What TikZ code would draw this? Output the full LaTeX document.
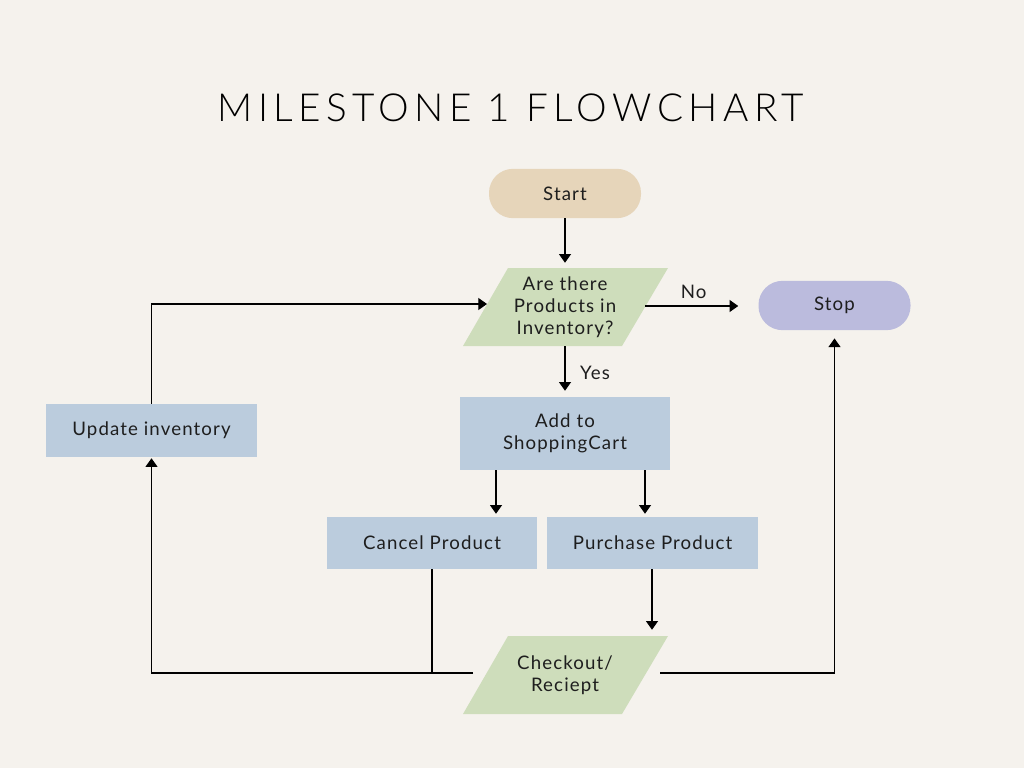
\documentclass[tikz,border=0pt]{standalone}
\usepackage{fontspec}
\setmainfont{Lato}[LetterSpace=6]
\newfontfamily\titlefont{Lato Light}[LetterSpace=14]
\usetikzlibrary{arrows.meta,calc}
\definecolor{bg}{RGB}{245,242,237}
\definecolor{ink}{RGB}{30,30,30}
\definecolor{tan}{RGB}{230,213,186}
\definecolor{sage}{RGB}{206,221,187}
\definecolor{lav}{RGB}{187,187,221}
\definecolor{steel}{RGB}{187,204,221}
\tikzset{
  txt/.style={font=\fontsize{14}{16.5}\selectfont, text=ink, align=center, inner sep=0pt},
  pill/.style={txt, rounded corners=18pt, minimum width=114pt, minimum height=37pt},
  boxn/.style={txt, fill=steel, minimum width=157.5pt},
  para/.style={txt, minimum width=120pt, minimum height=58.5pt},
  arr/.style={-{Triangle[width=9pt,length=6.5pt]}, line width=0.8pt, draw=black},
  ln/.style={line width=0.8pt, draw=black},
  lbl/.style={font=\fontsize{14}{16}\selectfont, text=ink, inner sep=0pt}
}
\begin{document}
\begin{tikzpicture}[x=0.75pt,y=-0.75pt]
\fill[bg] (0,0) rectangle (1024,768);
\useasboundingbox (0,0) rectangle (1024,768);

\node[font=\titlefont\fontsize{29}{32}\selectfont, text=black] (title) at (511,108) {MILESTONE 1 FLOWCHART};

\node[pill, fill=tan] (start) at (565,193.5) {Start};
\node[pill, fill=lav] (stop) at (834.5,305.5) {Stop};

% decision parallelogram
\fill[sage] (565-57,307-39) -- (565+103,307-39) -- (565+57,307+39) -- (565-102,307+39) -- cycle;
\node[para] (dec) at (565,307) {Are there\\Products in\\Inventory?};

\node[boxn, minimum height=54.75pt] (add) at (565,433.5) {Add to\\ShoppingCart};
\node[boxn, minimum height=39.75pt, minimum width=158.25pt] (upd) at (151.5,430.5) {Update inventory};
\node[boxn, minimum height=39pt] (cancel) at (432,543) {Cancel Product};
\node[boxn, minimum height=39pt, minimum width=158.25pt] (purchase) at (652.5,543) {Purchase Product};

% checkout parallelogram
\fill[sage] (565-57,675-39) -- (565+103,675-39) -- (565+57,675+39) -- (565-102,675+39) -- cycle;
\node[para] (chk) at (565,675) {Checkout/\\Reciept};

% connector points
\coordinate (decL) at ($(dec)+(-78,-3)$);
\coordinate (decR) at ($(dec)+(80,-1)$);
\coordinate (cL) at ($(chk)+(-92,-2)$);
\coordinate (cR) at ($(chk)+(95,-2)$);
\coordinate (a1) at ($(add.south)+(-69,0)$);
\coordinate (a2) at ($(add.south)+(80,0)$);
\coordinate (p1) at ($(purchase.south)+(-0.5,0)$);

% connectors
\draw[arr, shorten >=15pt] (decR) -- (decR -| stop.west) node[lbl, pos=0.43, above=5pt] {No};
\draw[arr, shorten >=3.75pt] (start.south) -- (dec.north);
\draw[arr, shorten >=4.5pt] (dec.south) -- (add.north) node[lbl, midway, right=11pt, yshift=-1pt] {Yes};
\draw[arr, shorten >=2.25pt] (a1) -- (a1 |- cancel.north);
\draw[arr, shorten >=2.25pt] (a2) -- (a2 |- purchase.north);
\draw[arr, shorten >=4.5pt] (p1) -- (p1 |- chk.north);
\draw[ln] (cancel.south) -- (cancel.south |- cL);
\draw[arr, shorten >=0.75pt] (cL) -| (upd.south);
\draw[arr] (upd.north) |- (decL);
\draw[arr, shorten >=6pt] (cR) -| (stop.south);
\end{tikzpicture}
\end{document}
